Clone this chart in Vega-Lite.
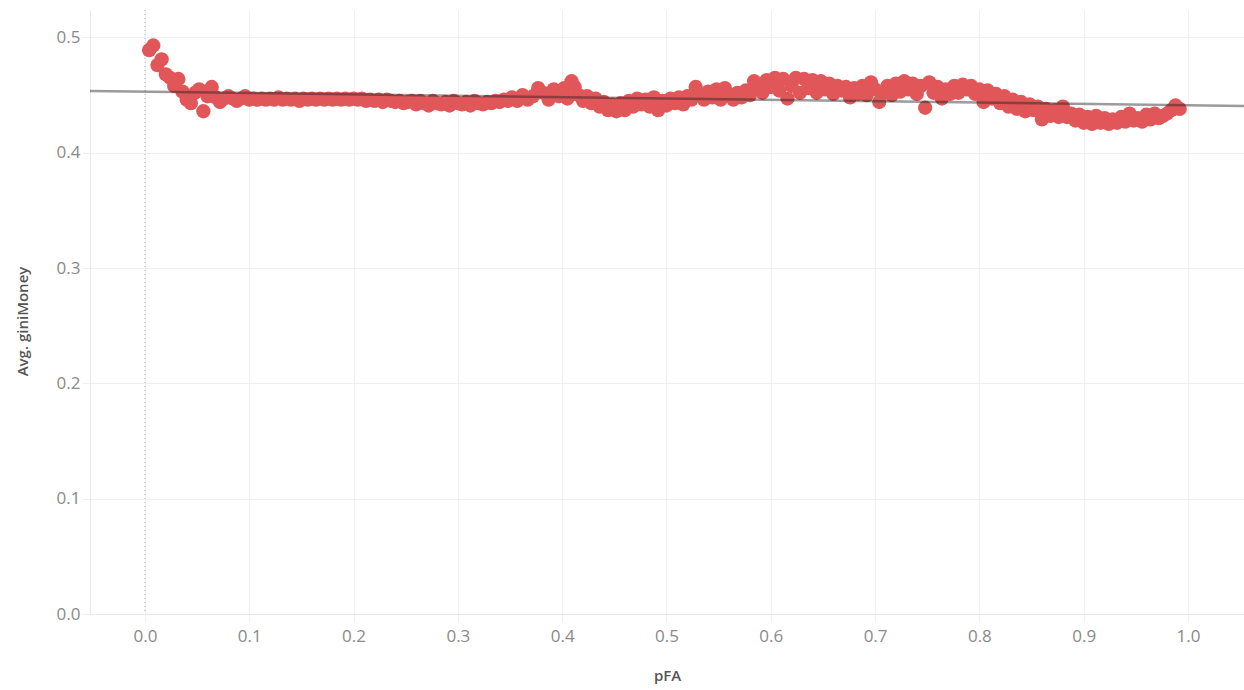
{
  "$schema": "https://vega.github.io/schema/vega-lite/v6.json",
  "width": 1154,
  "height": 604,
  "autosize": {"type": "none"},
  "padding": {"left": 90, "top": 10, "right": 0, "bottom": 76},
  "background": "white",
  "config": {
    "view": {"stroke": null},
    "font": "Open Sans",
    "axis": {
      "labelFont": "Open Sans",
      "labelFontSize": 17,
      "labelColor": "#8a8a8a",
      "titleFont": "Open Sans",
      "titleFontSize": 15,
      "titleColor": "#555",
      "titleFontWeight": 600,
      "gridColor": "#efefef",
      "gridWidth": 1,
      "tickColor": "#efefef",
      "tickSize": 8,
      "domainColor": "#e8e8e8"
    }
  },
  "datasets": {
    "pts": [
      {"pFA":0.004,"gini":0.489},{"pFA":0.008,"gini":0.493},{"pFA":0.012,"gini":0.476},{"pFA":0.016,"gini":0.481},
      {"pFA":0.020,"gini":0.468},{"pFA":0.024,"gini":0.465},{"pFA":0.028,"gini":0.458},{"pFA":0.032,"gini":0.464},
      {"pFA":0.036,"gini":0.453},{"pFA":0.040,"gini":0.446},{"pFA":0.044,"gini":0.443},{"pFA":0.048,"gini":0.452},
      {"pFA":0.052,"gini":0.455},{"pFA":0.056,"gini":0.436},{"pFA":0.060,"gini":0.449},{"pFA":0.064,"gini":0.457},
      {"pFA":0.068,"gini":0.448},{"pFA":0.072,"gini":0.444},{"pFA":0.076,"gini":0.447},{"pFA":0.080,"gini":0.449},
      {"pFA":0.084,"gini":0.447},{"pFA":0.088,"gini":0.445},{"pFA":0.092,"gini":0.447},{"pFA":0.096,"gini":0.449},
      {"pFA":0.100,"gini":0.446},{"pFA":0.104,"gini":0.447},{"pFA":0.108,"gini":0.446},{"pFA":0.112,"gini":0.447},
      {"pFA":0.116,"gini":0.446},{"pFA":0.120,"gini":0.447},{"pFA":0.124,"gini":0.446},{"pFA":0.128,"gini":0.448},
      {"pFA":0.132,"gini":0.446},{"pFA":0.136,"gini":0.447},{"pFA":0.140,"gini":0.446},{"pFA":0.144,"gini":0.447},
      {"pFA":0.148,"gini":0.445},{"pFA":0.152,"gini":0.447},{"pFA":0.156,"gini":0.446},{"pFA":0.160,"gini":0.447},
      {"pFA":0.164,"gini":0.446},{"pFA":0.168,"gini":0.447},{"pFA":0.172,"gini":0.446},{"pFA":0.176,"gini":0.447},
      {"pFA":0.180,"gini":0.446},{"pFA":0.184,"gini":0.447},{"pFA":0.188,"gini":0.446},{"pFA":0.192,"gini":0.447},
      {"pFA":0.196,"gini":0.446},{"pFA":0.200,"gini":0.447},{"pFA":0.204,"gini":0.446},{"pFA":0.208,"gini":0.447},
      {"pFA":0.212,"gini":0.445},{"pFA":0.216,"gini":0.446},{"pFA":0.220,"gini":0.445},{"pFA":0.224,"gini":0.446},
      {"pFA":0.228,"gini":0.444},{"pFA":0.232,"gini":0.446},{"pFA":0.236,"gini":0.445},{"pFA":0.240,"gini":0.444},
      {"pFA":0.244,"gini":0.445},{"pFA":0.248,"gini":0.443},{"pFA":0.252,"gini":0.444},{"pFA":0.256,"gini":0.445},
      {"pFA":0.260,"gini":0.442},{"pFA":0.264,"gini":0.445},{"pFA":0.268,"gini":0.443},{"pFA":0.272,"gini":0.441},
      {"pFA":0.276,"gini":0.445},{"pFA":0.280,"gini":0.443},{"pFA":0.284,"gini":0.442},{"pFA":0.288,"gini":0.444},
      {"pFA":0.292,"gini":0.441},{"pFA":0.296,"gini":0.445},{"pFA":0.300,"gini":0.443},{"pFA":0.304,"gini":0.442},
      {"pFA":0.308,"gini":0.444},{"pFA":0.312,"gini":0.441},{"pFA":0.316,"gini":0.445},{"pFA":0.320,"gini":0.443},
      {"pFA":0.324,"gini":0.442},{"pFA":0.328,"gini":0.444},{"pFA":0.332,"gini":0.443},{"pFA":0.336,"gini":0.445},
      {"pFA":0.340,"gini":0.444},{"pFA":0.344,"gini":0.446},{"pFA":0.348,"gini":0.445},
      {"pFA":0.352,"gini":0.448},{"pFA":0.357,"gini":0.445},{"pFA":0.362,"gini":0.450},{"pFA":0.367,"gini":0.446},
      {"pFA":0.372,"gini":0.449},{"pFA":0.377,"gini":0.456},{"pFA":0.382,"gini":0.452},{"pFA":0.387,"gini":0.446},
      {"pFA":0.392,"gini":0.455},{"pFA":0.397,"gini":0.449},{"pFA":0.402,"gini":0.456},{"pFA":0.405,"gini":0.447},
      {"pFA":0.409,"gini":0.462},{"pFA":0.412,"gini":0.457},{"pFA":0.416,"gini":0.450},{"pFA":0.420,"gini":0.445},
      {"pFA":0.424,"gini":0.449},{"pFA":0.428,"gini":0.443},{"pFA":0.432,"gini":0.447},{"pFA":0.436,"gini":0.440},
      {"pFA":0.440,"gini":0.444},{"pFA":0.444,"gini":0.437},{"pFA":0.448,"gini":0.442},{"pFA":0.452,"gini":0.436},
      {"pFA":0.456,"gini":0.443},{"pFA":0.460,"gini":0.437},{"pFA":0.464,"gini":0.445},{"pFA":0.468,"gini":0.440},
      {"pFA":0.472,"gini":0.447},{"pFA":0.476,"gini":0.442},{"pFA":0.480,"gini":0.446},{"pFA":0.484,"gini":0.440},
      {"pFA":0.488,"gini":0.448},{"pFA":0.492,"gini":0.437},{"pFA":0.496,"gini":0.445},{"pFA":0.500,"gini":0.441},
      {"pFA":0.504,"gini":0.447},{"pFA":0.508,"gini":0.443},{"pFA":0.512,"gini":0.448},{"pFA":0.516,"gini":0.442},
      {"pFA":0.520,"gini":0.449},{"pFA":0.524,"gini":0.446},{"pFA":0.528,"gini":0.457},{"pFA":0.532,"gini":0.450},
      {"pFA":0.536,"gini":0.446},{"pFA":0.540,"gini":0.453},{"pFA":0.544,"gini":0.448},{"pFA":0.548,"gini":0.455},
      {"pFA":0.552,"gini":0.446},{"pFA":0.556,"gini":0.456},{"pFA":0.560,"gini":0.450},{"pFA":0.564,"gini":0.446},
      {"pFA":0.568,"gini":0.452},{"pFA":0.572,"gini":0.448},{"pFA":0.576,"gini":0.454},{"pFA":0.580,"gini":0.450},
      {"pFA":0.584,"gini":0.462},{"pFA":0.588,"gini":0.455},{"pFA":0.592,"gini":0.452},{"pFA":0.596,"gini":0.463},
      {"pFA":0.600,"gini":0.457},{"pFA":0.604,"gini":0.465},{"pFA":0.608,"gini":0.454},{"pFA":0.612,"gini":0.464},
      {"pFA":0.616,"gini":0.447},{"pFA":0.620,"gini":0.458},{"pFA":0.624,"gini":0.465},{"pFA":0.628,"gini":0.452},
      {"pFA":0.632,"gini":0.464},{"pFA":0.636,"gini":0.456},{"pFA":0.640,"gini":0.463},{"pFA":0.644,"gini":0.452},
      {"pFA":0.648,"gini":0.462},{"pFA":0.652,"gini":0.455},{"pFA":0.656,"gini":0.460},{"pFA":0.660,"gini":0.451},
      {"pFA":0.664,"gini":0.458},{"pFA":0.668,"gini":0.454},{"pFA":0.672,"gini":0.457},{"pFA":0.676,"gini":0.448},
      {"pFA":0.680,"gini":0.456},{"pFA":0.684,"gini":0.451},{"pFA":0.688,"gini":0.458},{"pFA":0.692,"gini":0.450},
      {"pFA":0.696,"gini":0.461},{"pFA":0.700,"gini":0.455},{"pFA":0.704,"gini":0.444},{"pFA":0.708,"gini":0.452},
      {"pFA":0.712,"gini":0.458},{"pFA":0.716,"gini":0.450},{"pFA":0.720,"gini":0.460},{"pFA":0.724,"gini":0.453},
      {"pFA":0.728,"gini":0.462},{"pFA":0.732,"gini":0.455},{"pFA":0.736,"gini":0.460},{"pFA":0.740,"gini":0.451},
      {"pFA":0.744,"gini":0.458},{"pFA":0.748,"gini":0.439},{"pFA":0.752,"gini":0.461},{"pFA":0.756,"gini":0.452},
      {"pFA":0.760,"gini":0.457},{"pFA":0.764,"gini":0.447},{"pFA":0.768,"gini":0.455},{"pFA":0.772,"gini":0.451},
      {"pFA":0.776,"gini":0.458},{"pFA":0.780,"gini":0.452},{"pFA":0.784,"gini":0.459},{"pFA":0.788,"gini":0.455},
      {"pFA":0.792,"gini":0.458},{"pFA":0.796,"gini":0.451},
      {"pFA":0.800,"gini":0.455},{"pFA":0.804,"gini":0.444},{"pFA":0.808,"gini":0.454},{"pFA":0.812,"gini":0.447},
      {"pFA":0.816,"gini":0.451},{"pFA":0.820,"gini":0.443},{"pFA":0.824,"gini":0.449},{"pFA":0.828,"gini":0.440},
      {"pFA":0.832,"gini":0.446},{"pFA":0.836,"gini":0.438},{"pFA":0.840,"gini":0.444},{"pFA":0.844,"gini":0.436},
      {"pFA":0.848,"gini":0.442},{"pFA":0.852,"gini":0.437},{"pFA":0.856,"gini":0.440},{"pFA":0.860,"gini":0.429},
      {"pFA":0.864,"gini":0.438},{"pFA":0.868,"gini":0.432},{"pFA":0.872,"gini":0.437},{"pFA":0.876,"gini":0.431},
      {"pFA":0.880,"gini":0.440},{"pFA":0.884,"gini":0.431},{"pFA":0.888,"gini":0.434},{"pFA":0.892,"gini":0.428},
      {"pFA":0.896,"gini":0.433},{"pFA":0.900,"gini":0.426},{"pFA":0.904,"gini":0.431},{"pFA":0.908,"gini":0.425},
      {"pFA":0.912,"gini":0.432},{"pFA":0.916,"gini":0.426},{"pFA":0.920,"gini":0.430},{"pFA":0.924,"gini":0.425},
      {"pFA":0.928,"gini":0.429},{"pFA":0.932,"gini":0.426},{"pFA":0.936,"gini":0.431},{"pFA":0.940,"gini":0.427},
      {"pFA":0.944,"gini":0.434},{"pFA":0.948,"gini":0.428},{"pFA":0.952,"gini":0.430},{"pFA":0.956,"gini":0.427},
      {"pFA":0.960,"gini":0.433},{"pFA":0.964,"gini":0.429},{"pFA":0.968,"gini":0.434},{"pFA":0.972,"gini":0.430},
      {"pFA":0.976,"gini":0.432},{"pFA":0.980,"gini":0.434},{"pFA":0.984,"gini":0.437},{"pFA":0.988,"gini":0.441},
      {"pFA":0.992,"gini":0.438}
    ]
  },
  "layer": [
    {
      "data": {"values": [{"ref": 0}]},
      "mark": {"type": "rule", "color": "#b5b5b5", "strokeDash": [1, 3], "strokeWidth": 1},
      "encoding": {
        "x": {"field": "ref", "type": "quantitative", "scale": {"domain": [-0.0527, 1.0537], "nice": false, "zero": false}}
      }
    },
    {
      "data": {"name": "pts"},
      "mark": {"type": "circle", "size": 205, "color": "#e15759", "opacity": 1},
      "encoding": {
        "x": {
          "field": "pFA", "type": "quantitative",
          "scale": {"domain": [-0.0527, 1.0537], "nice": false, "zero": false},
          "axis": {"title": "pFA", "values": [0, 0.1, 0.2, 0.3, 0.4, 0.5, 0.6, 0.7, 0.8, 0.9, 1.0], "format": ".1f", "labelPadding": 6, "titlePadding": 24, "domain": true}
        },
        "y": {
          "field": "gini", "type": "quantitative",
          "scale": {"domain": [0, 0.5238], "nice": false},
          "axis": {"title": "Avg. giniMoney", "values": [0, 0.1, 0.2, 0.3, 0.4, 0.5], "format": ".1f", "labelPadding": 2, "titlePadding": 26, "titleY": 311, "domain": true}
        }
      }
    },
    {
      "data": {"name": "pts"},
      "transform": [{"regression": "gini", "on": "pFA", "extent": [-0.0527, 1.0537]}],
      "mark": {"type": "line", "color": "#222", "opacity": 0.45, "strokeWidth": 2.5},
      "encoding": {
        "x": {"field": "pFA", "type": "quantitative"},
        "y": {"field": "gini", "type": "quantitative"}
      }
    }
  ]
}
